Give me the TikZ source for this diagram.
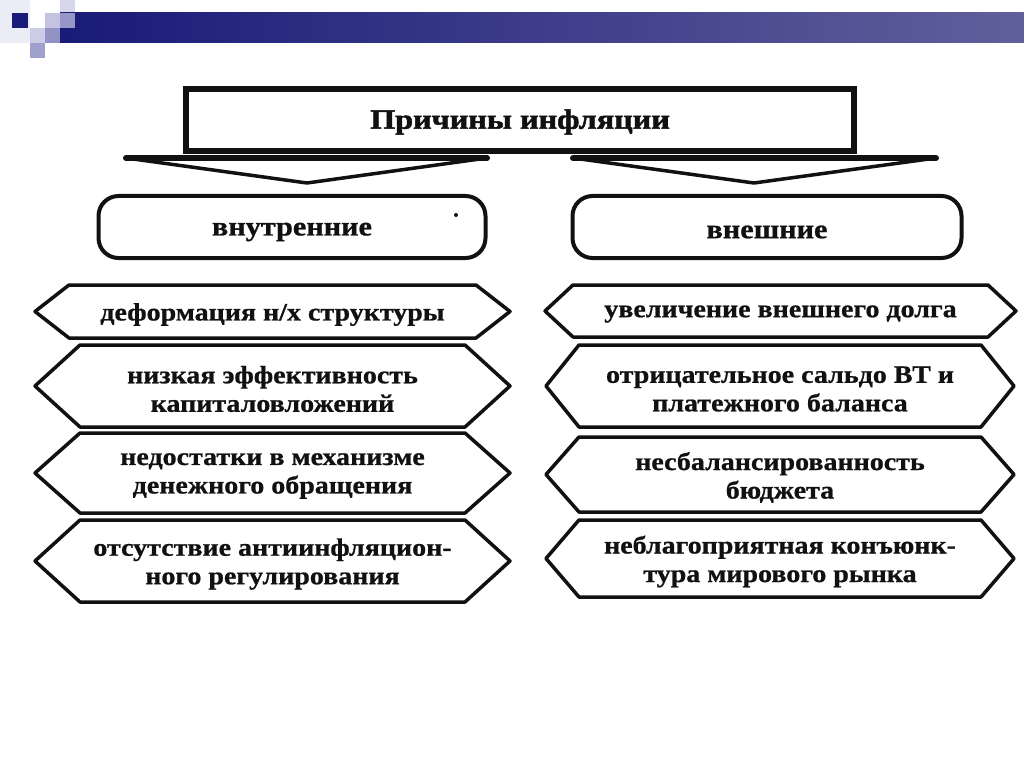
\documentclass[tikz,border=0pt]{standalone}
\usepackage{fontspec}
\setmainfont{Liberation Serif}
\newfontfamily\boxfont{Liberation Serif}[FakeStretch=1.12,FakeBold=0.8]
\newfontfamily\titlefont{Liberation Serif}[FakeStretch=1.15,FakeBold=1.8]
\definecolor{ink}{HTML}{111111}
\definecolor{navy}{HTML}{1A1A78}
\tikzset{
  hexline/.style={draw=ink,line width=3.5pt,line join=round},
  boxtext/.style={align=center,inner sep=0pt,yshift=-3pt,font=\boxfont\bfseries\fontsize{25}{28.5}\selectfont,text=ink},
  roundbox/.style={draw=ink,line width=4pt,rounded corners=20pt,minimum width=#1,minimum height=62pt,inner sep=0pt},
  roundtext/.style={inner sep=0pt,yshift=-5pt,font=\boxfont\bfseries\fontsize{27}{30}\selectfont,text=ink},
  titlebox/.style={draw=ink,line width=6pt,minimum width=668pt,minimum height=62pt,inner sep=0pt},
  titletext/.style={inner sep=0pt,yshift=-2pt,font=\titlefont\bfseries\fontsize{28}{30}\selectfont,text=ink},
  chevron/.style={draw=ink,line width=3.5pt,line join=round},
  chevtop/.style={draw=ink,line width=6pt,line cap=round},
}
\newcommand\hexbox[7]{%
  \draw[hexline] (#2,{(#4+#5)/2}) -- (#2+#6,#4) -- (#3-#6,#4) -- (#3,{(#4+#5)/2})
     -- (#3-#6,#5) -- (#2+#6,#5) -- cycle;
  \node[boxtext] (#1) at ({(#2+#3)/2},{(#4+#5)/2}) {#7};
}
\begin{document}
\begin{tikzpicture}[x=1pt,y=-1pt]
\useasboundingbox[fill=white] (0,0) rectangle (1024,767);
% slide decoration
\fill[color={rgb,255:red,236;green,236;blue,246}] (0,0) rectangle (30,43);
\fill[color={rgb,255:red,214;green,214;blue,236}] (60,0) rectangle (75,13);
\shade[left color=navy,right color={rgb,255:red,96;green,96;blue,156}] (60,13) rectangle (1024,43);
\fill[navy] (12,13) rectangle (28,28);
\fill[color={rgb,255:red,196;green,196;blue,226}] (45,13) rectangle (60,28);
\fill[color={rgb,255:red,150;green,150;blue,200}] (60,13) rectangle (75,28);
\fill[color={rgb,255:red,204;green,204;blue,230}] (30,28) rectangle (45,43);
\fill[color={rgb,255:red,146;green,146;blue,196}] (45,28) rectangle (60,43);
\fill[color={rgb,255:red,160;green,160;blue,204}] (30,43) rectangle (45,58);
% title
\node[titlebox] (title) at (520,120) {};
\node[titletext] (titletxt) at (title.center) {Причины инфляции};
% chevrons
\coordinate (cl1) at (126,158); \coordinate (cl2) at (487,158); \coordinate (clt) at (307,183);
\coordinate (cr1) at (573,158); \coordinate (cr2) at (936,158); \coordinate (crt) at (754,183);
\draw[chevron] (cl1) -- (clt) -- (cl2) -- cycle;
\draw[chevtop] (cl1) -- (cl2);
\draw[chevron] (cr1) -- (crt) -- (cr2) -- cycle;
\draw[chevtop] (cr1) -- (cr2);
% category boxes
\node[roundbox=387pt] (inner) at (292,227) {};
\node[roundtext] (innertxt) at (inner.center) {внутренние};
\node[roundbox=389pt] (outer) at (767,227) {};
\node[roundtext] (outertxt) at (outer.center) {внешние};
\fill[ink] (456,215) circle (2);
% left column
\hexbox{l1}{35}{510}{285}{338}{34}{деформация н/х структуры}
\hexbox{l2}{35}{510}{345}{427}{45}{низкая эффективность\\капиталовложений}
\hexbox{l3}{35}{510}{433}{513}{45}{недостатки в механизме\\денежного обращения}
\hexbox{l4}{35}{510}{520}{602}{45}{отсутствие антиинфляцион-\\ного регулирования}
% right column
\hexbox{r1}{545}{1016}{285}{337}{28}{увеличение внешнего долга}
\hexbox{r2}{546}{1014}{345}{427}{33}{отрицательное сальдо ВТ и\\платежного баланса}
\hexbox{r3}{546}{1014}{437}{512}{33}{несбалансированность\\бюджета}
\hexbox{r4}{546}{1014}{520}{597}{33}{неблагоприятная конъюнк-\\тура мирового рынка}
\end{tikzpicture}
\end{document}
